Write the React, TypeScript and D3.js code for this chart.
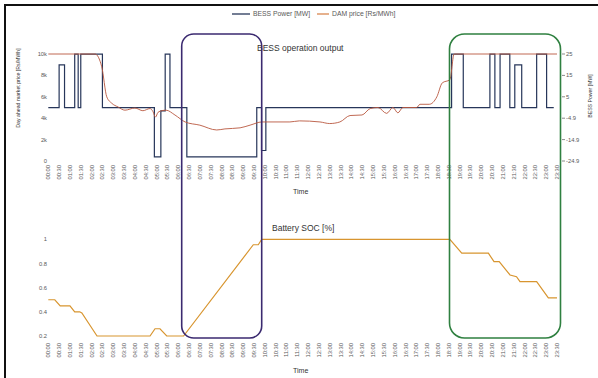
import * as d3 from 'd3';

// half-hour category labels on both time axes
const timeLabels = d3.range(48).map((i) => `${String(Math.floor(i / 2)).padStart(2, '0')}:${i % 2 ? '30' : '00'}`);

// DAM price [Rs/MWh] (hour of day, price)
const priceHours = [0, 2.16, 2.47, 2.7, 2.93, 3.22, 3.54, 4.0, 4.37, 4.7, 4.84, 4.95, 5.07, 5.25, 5.44, 5.85, 6.32, 7.0, 7.78, 8.16, 8.86, 9.32, 9.87, 11.16, 11.6, 12.55, 13.0, 13.47, 13.94, 14.49, 14.87, 15.23, 15.63, 15.92, 16.15, 16.38, 17.02, 17.17, 17.6, 17.95, 18.2, 18.55, 18.75, 23.5];
const priceValues = [10000, 10000, 8800, 6000, 5400, 5050, 4750, 4950, 4700, 4900, 4600, 4100, 4550, 4700, 4750, 4300, 3650, 3350, 2900, 3000, 3100, 3350, 3650, 3650, 3750, 3650, 3500, 3650, 4250, 4300, 4900, 5000, 4450, 5000, 4500, 5000, 5000, 5300, 5300, 6000, 7300, 7600, 10000, 10000];

// BESS power [MW], step changes (hour, MW)
const powerHours = [0, 0.5, 0.75, 1.22, 1.38, 1.5, 2.5, 4.9, 5.2, 5.4, 5.62, 6.4, 9.63, 9.85, 10.05, 18.63, 19.17, 20.4, 20.63, 20.87, 21.32, 21.55, 21.87, 22.56, 23.02, 23.35];
const powerValues = [0, 20, 0, 25, 0, 25, 0, -23, -1.5, 25, 0, -23, 0, -20, 0, 25, 0, 25, 0, 25, 0, 20, 0, 25, 0, 0];

// Battery SOC (hour, fraction)
const socHours = [0, 0.3, 0.55, 1.0, 1.22, 1.45, 1.55, 2.25, 4.7, 4.93, 5.16, 5.47, 6.25, 9.47, 9.7, 9.86, 18.55, 19.1, 20.33, 20.59, 20.83, 21.33, 21.63, 21.79, 22.56, 23.1, 23.5];
const socValues = [0.5, 0.5, 0.45, 0.45, 0.4, 0.4, 0.39, 0.2, 0.2, 0.26, 0.26, 0.2, 0.2, 0.955, 0.955, 1.0, 1.0, 0.885, 0.885, 0.815, 0.815, 0.705, 0.69, 0.65, 0.65, 0.515, 0.515];

const priceTicks = [0, 2000, 4000, 6000, 8000, 10000];
const priceTickLabels = ['0', '2k', '4k', '6k', '8k', '10k'];
const powerTicks = [-24.9, -14.9, -4.9, 5.1, 15.1, 25.1];
const powerTickLabels = ['-24.9', '-14.9', '-4.9', '5', '15', '25'];
const socTicks = [0.2, 0.4, 0.6, 0.8, 1];
const socTickLabels = ['0.2', '0.4', '0.6', '0.8', '1'];

const FONT = '"Liberation Sans", Arial, sans-serif';
const GREY = '#595959';
const POWER_COLOR = '#27365a';
const PRICE_COLOR = '#b9583f';
const SOC_COLOR = '#d8952f';

export default function App() {
  const x = d3.scaleLinear().domain([0, 23.5]).range([48.3, 557]);
  const yPrice = d3.scaleLinear().domain([0, 10000]).range([161, 54]);
  const yPower = d3.scaleLinear().domain([-24.9, 25.1]).range([161, 54]);
  const ySoc = d3.scaleLinear().domain([0.2, 1]).range([336, 239.3]);

  const priceLine = d3.line<number>()
    .x((_, i) => x(priceHours[i]))
    .y((d) => yPrice(d))
    .curve(d3.curveMonotoneX);
  const powerLine = d3.line<number>()
    .x((_, i) => x(powerHours[i]))
    .y((d) => yPower(d))
    .curve(d3.curveStepAfter);
  const socLine = d3.line<number>()
    .x((_, i) => x(socHours[i]))
    .y((d) => ySoc(d));

  const timeAxis = (yAnchor: number) => timeLabels.map((t, i) => (
    <text key={t} transform={`translate(${x(i / 2)},${yAnchor}) rotate(-90)`} dy="0.35em"
      textAnchor="end" fontSize={5.8} fill={GREY}>{t}</text>
  ));

  return (
    <svg width={598} height={378} style={{ position: 'absolute', left: 0, top: 0, background: '#fff' }} fontFamily={FONT}>
      <rect x={5} y={5} width={620} height={420} fill="none" stroke="#111" strokeWidth={2} />

      {/* legend */}
      <line x1={232} x2={250} y1={14} y2={14} stroke={POWER_COLOR} strokeWidth={1.3} />
      <text x={253} y={14} dy="0.35em" fontSize={6.8} fill={GREY}>BESS Power [MW]</text>
      <line x1={317} x2={329} y1={14} y2={14} stroke="#d9874f" strokeWidth={1.3} />
      <text x={332} y={14} dy="0.35em" fontSize={6.8} fill={GREY}>DAM price [Rs/MWh]</text>

      {/* top chart */}
      <text x={257} y={48} dy="0.35em" fontSize={8.5} fill="#333">BESS operation output</text>
      {priceTicks.map((t, i) => (
        <text key={t} x={47} y={yPrice(t)} dy="0.35em" textAnchor="end" fontSize={5.8} fill={GREY}>{priceTickLabels[i]}</text>
      ))}
      {powerTicks.map((t, i) => (
        <g key={t}>
          <line x1={562} x2={565} y1={yPower(t)} y2={yPower(t)} stroke={GREY} strokeWidth={0.7} />
          <text x={566} y={yPower(t)} dy="0.35em" fontSize={5.8} fill={GREY}>{powerTickLabels[i]}</text>
        </g>
      ))}
      <text transform="translate(18,88) rotate(-90)" dy="0.35em" textAnchor="middle" fontSize={5.2} fill="#333">Day ahead market price [Rs/MWh]</text>
      <text transform="translate(590,96) rotate(-90)" dy="0.35em" textAnchor="middle" fontSize={5.2} fill="#333">BESS Power [MW]</text>
      {timeAxis(165)}
      <text x={293} y={192} dy="0.35em" fontSize={7} fill="#333">Time</text>

      <path d={powerLine(powerValues) ?? ''} fill="none" stroke={POWER_COLOR} strokeWidth={1.2} />
      <path d={priceLine(priceValues) ?? ''} fill="none" stroke={PRICE_COLOR} strokeWidth={0.9} />

      {/* bottom chart */}
      <text x={272} y={228} dy="0.35em" fontSize={8.5} fill="#333">Battery SOC [%]</text>
      {socTicks.map((t, i) => (
        <text key={t} x={47} y={ySoc(t)} dy="0.35em" textAnchor="end" fontSize={5.8} fill={GREY}>{socTickLabels[i]}</text>
      ))}
      {timeAxis(343)}
      <text x={293} y={371} dy="0.35em" fontSize={7} fill="#333">Time</text>
      <path d={socLine(socValues) ?? ''} fill="none" stroke={SOC_COLOR} strokeWidth={1.2} />

      {/* highlight boxes */}
      <rect x={181.7} y={34} width={80} height={304} rx={12} fill="none" stroke="#3b2a70" strokeWidth={1.6} />
      <rect x={449.5} y={34} width={111} height={304} rx={15} fill="none" stroke="#2f8040" strokeWidth={1.6} />
    </svg>
  );
}
